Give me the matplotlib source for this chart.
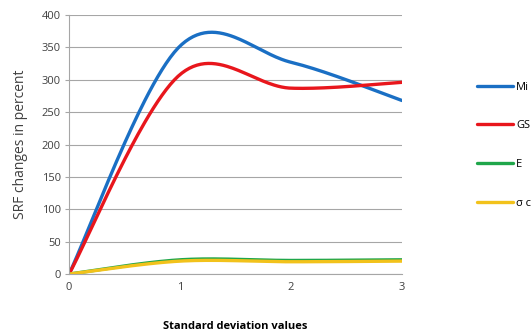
import numpy as np
import matplotlib.pyplot as plt

# data points, Excel-style smoothed lines
std_values = [0, 1, 2, 3]
m_values = [0, 352, 327, 268]
gs_values = [0, 308, 287, 296]
e_values = [0, 22, 21, 22]
sigma_values = [0, 20, 19, 20]

labels = ["Mi", "GSI", "E", "σ ci"]
colors = ["#1a6fc4", "#e8161c", "#1fa64a", "#f2c21b"]


def smooth(xs, ys, n=60):
    # Excel-like smoothing: cubic Bezier between points, Catmull-Rom style handles
    xs = np.asarray(xs, float)
    ys = np.asarray(ys, float)
    pts = np.column_stack([xs, ys])
    out = []
    for i in range(len(pts) - 1):
        p0 = pts[i - 1] if i > 0 else pts[i]
        p1 = pts[i]
        p2 = pts[i + 1]
        p3 = pts[i + 2] if i + 2 < len(pts) else pts[i + 1]
        c1 = p1 + (p2 - p0) / 6
        c2 = p2 - (p3 - p1) / 6
        t = np.linspace(0, 1, n)[:, None]
        seg = (1 - t) ** 3 * p1 + 3 * (1 - t) ** 2 * t * c1 + 3 * (1 - t) * t ** 2 * c2 + t ** 3 * p2
        out.append(seg if i == 0 else seg[1:])
    seg = np.vstack(out)
    return seg[:, 0], seg[:, 1]


plt.rcParams['font.family'] = ['Open Sans', 'DejaVu Sans']

fig = plt.figure(figsize=(5.31, 3.33), dpi=100)
ax = fig.add_axes([0.130, 0.177, 0.627, 0.778])

series = [m_values, gs_values, e_values, sigma_values]
for vals, lab, col in zip(series, labels, colors):
    sx, sy = smooth(std_values, vals)
    ax.plot(sx, sy, color=col, lw=2.4, label=lab, solid_capstyle='round')

ax.set_xlim(0, 3)
ax.set_ylim(0, 400)
ax.set_xticks(std_values)
ax.set_yticks(range(0, 401, 50))
ax.grid(axis='y', color='#a6a6a6', lw=0.8)
ax.set_axisbelow(True)
for s in ['top', 'right']:
    ax.spines[s].set_visible(False)
for s in ['left', 'bottom']:
    ax.spines[s].set_color('#a6a6a6')
ax.tick_params(axis='y', length=3, color='#a6a6a6', labelsize=8, labelcolor='#404040', pad=3)
ax.tick_params(axis='x', length=0, labelsize=8, labelcolor='#404040', pad=6)

ax.set_ylabel("SRF changes in percent", fontsize=10, color='#404040', labelpad=10)
ax.set_xlabel("Standard deviation values", fontsize=8, fontweight='bold', color='black', labelpad=20)

ax.legend(loc='upper left', bbox_to_anchor=(1.213, 0.76), frameon=False, fontsize=8,
          handlelength=3.2, handletextpad=0.3, labelspacing=2.5, borderaxespad=0)

fig.savefig("out.png", dpi=100)
